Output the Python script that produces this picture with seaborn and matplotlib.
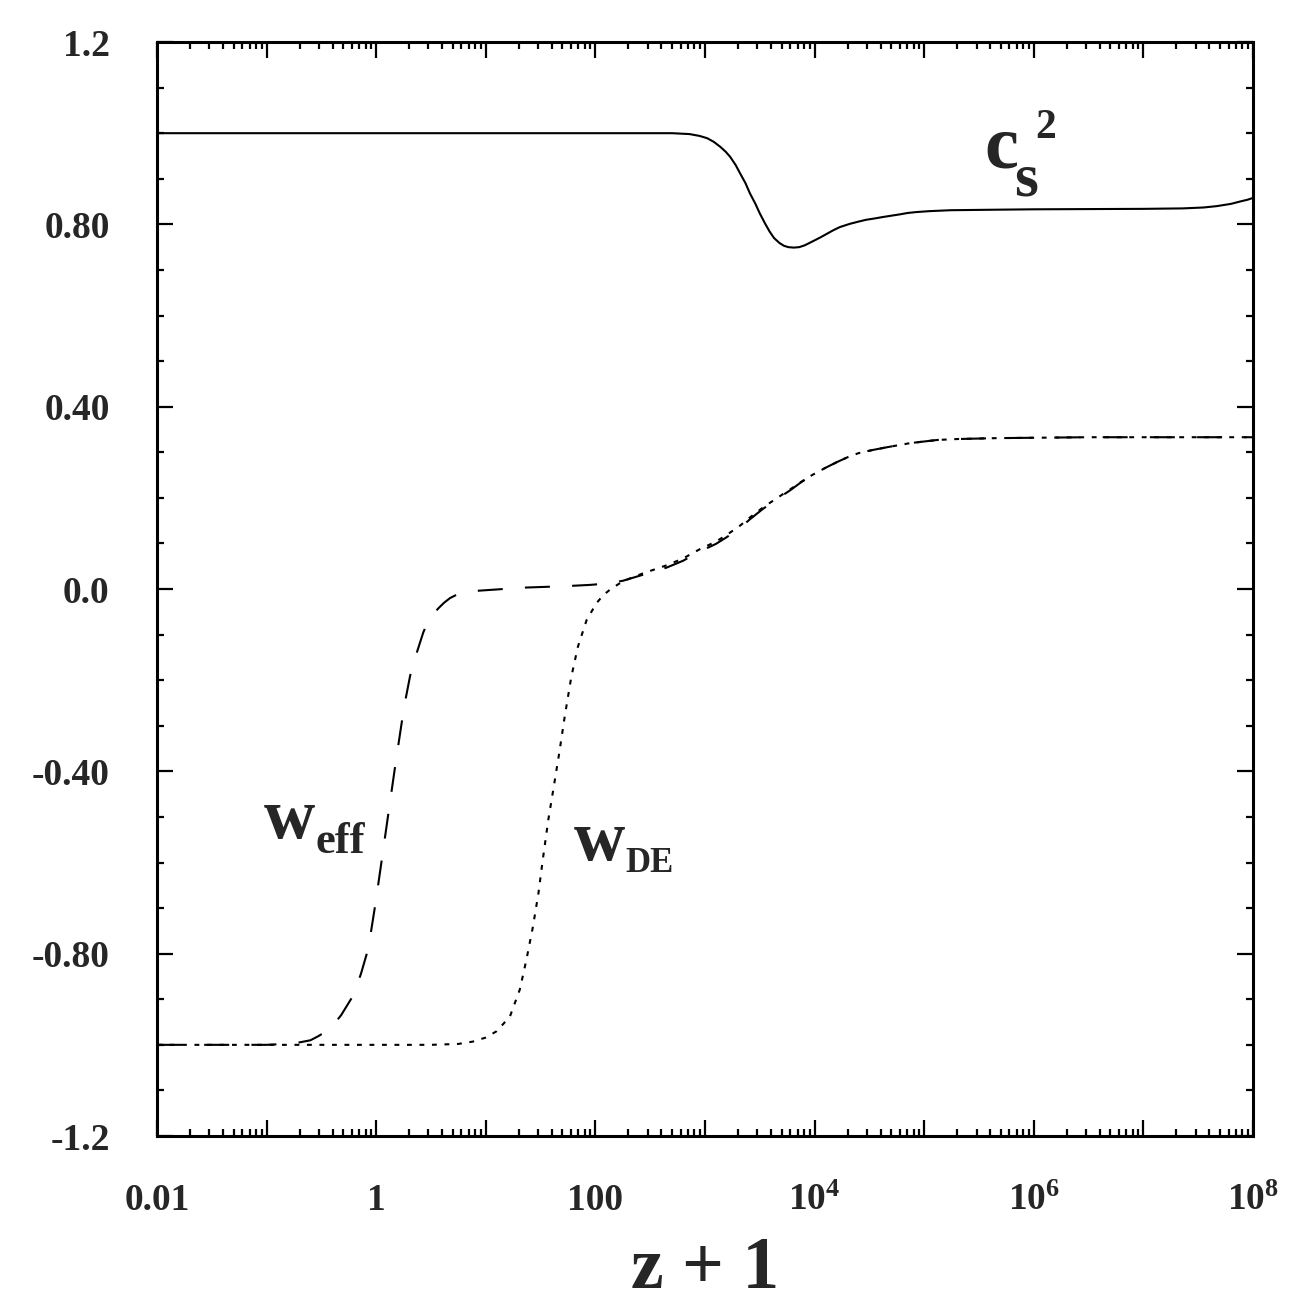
import numpy as np
import matplotlib
matplotlib.use("Agg")
import matplotlib.pyplot as plt
from matplotlib.ticker import FixedLocator, LogLocator, MultipleLocator, NullFormatter
import seaborn as sns

# log10(z+1) and value
cs2_logx = [-2.0, 1.0, 2.0, 2.41, 2.7, 2.86, 2.95, 3.02, 3.08, 3.14, 3.19, 3.23, 3.28,
            3.32, 3.37, 3.41, 3.46, 3.50, 3.55, 3.59, 3.63, 3.68, 3.72, 3.76, 3.81,
            3.86, 3.91, 3.96, 4.05, 4.11, 4.17, 4.23, 4.32, 4.4, 4.47, 4.55, 4.62,
            4.7, 4.78, 4.85, 4.93, 5.05, 5.24, 5.6, 6.0, 7.0, 7.36, 7.55, 7.67, 7.80,
            7.88, 7.95, 8.0]
cs2_val = [1.000, 1.000, 1.000, 1.000, 1.000, 0.998, 0.994, 0.989, 0.981, 0.970, 0.959, 0.948, 0.930,
           0.912, 0.890, 0.868, 0.845, 0.824, 0.801, 0.784, 0.770, 0.759, 0.753, 0.750, 0.749,
           0.750, 0.754, 0.760, 0.771, 0.779, 0.787, 0.794, 0.801, 0.806, 0.810, 0.813, 0.816,
           0.819, 0.822, 0.825, 0.827, 0.829, 0.831, 0.832, 0.833, 0.834, 0.835, 0.837, 0.840, 0.845,
           0.850, 0.854, 0.858]

weff_logx = [-2.0, -1.0, -0.75, -0.6, -0.528, -0.42, -0.32, -0.215, -0.14, -0.071, -0.004,
             0.057, 0.118, 0.179, 0.255, 0.31, 0.37, 0.43, 0.48, 0.53, 0.573, 0.62, 0.673,
             0.73, 0.8, 0.917, 1.1, 1.34, 1.7, 1.95, 2.1, 2.25, 2.43, 2.65, 2.8, 2.95, 3.1,
             3.2, 3.32, 3.41, 3.53, 3.66, 3.78, 3.87, 3.97, 4.1, 4.2, 4.3, 4.4, 4.53, 4.66,
             4.87, 5.12, 5.3, 5.66, 6.5, 8.0]
weff_val = [-1.000, -1.000, -0.997, -0.990, -0.981, -0.965, -0.935, -0.894, -0.845, -0.788, -0.686,
            -0.584, -0.481, -0.379, -0.258, -0.19, -0.140, -0.095, -0.068, -0.052, -0.041, -0.030, -0.020,
            -0.013, -0.008, -0.004, -0.001, 0.003, 0.006, 0.009, 0.012, 0.018, 0.031, 0.047, 0.062, 0.082, 0.099,
            0.114, 0.134, 0.153, 0.176, 0.198, 0.217, 0.233, 0.249, 0.266, 0.278, 0.289, 0.298, 0.305, 0.311,
            0.320, 0.327, 0.329, 0.331, 0.333, 0.333]

wde_logx = [-2.0, 0.5, 0.75, 0.88, 1.00, 1.10, 1.22, 1.31, 1.37, 1.43, 1.48, 1.52, 1.57,
            1.62, 1.67, 1.72, 1.78, 1.84, 1.92, 2.01, 2.07, 2.13, 2.25, 2.43, 2.65, 2.8, 2.95,
            3.1, 3.2, 3.32, 3.41, 3.53, 3.66, 3.78, 3.87, 3.97, 4.1, 4.2, 4.3, 4.4, 4.53,
            4.66, 4.87, 5.12, 5.3, 5.66, 6.5, 8.0]
wde_val = [-1.000, -1.000, -0.998, -0.993, -0.984, -0.970, -0.938, -0.879, -0.814, -0.741, -0.668, -0.594, -0.507,
           -0.434, -0.36, -0.28, -0.193, -0.127, -0.068, -0.031, -0.014, -0.002, 0.017, 0.034, 0.052, 0.067, 0.087,
           0.104, 0.119, 0.139, 0.157, 0.179, 0.200, 0.219, 0.234, 0.249, 0.266, 0.278, 0.289, 0.298, 0.305,
           0.311, 0.320, 0.327, 0.329, 0.331, 0.333, 0.333]

xtick_vals = [1e-2, 1e-1, 1, 10, 100, 1e3, 1e4, 1e5, 1e6, 1e7, 1e8]
xtick_labels = ["0.01", "", "1", "", "100", "", "$10^{4}$", "", "$10^{6}$", "", "$10^{8}$"]
ytick_vals = [-1.2, -0.8, -0.4, 0.0, 0.4, 0.8, 1.2]
ytick_labels = ["-1.2", "-0.80", "-0.40", "0.0", "0.40", "0.80", "1.2"]

sns.set_theme(style="ticks")
plt.rcParams["font.family"] = ["Liberation Serif", "DejaVu Serif"]
plt.rcParams["font.weight"] = "bold"
plt.rcParams["mathtext.fontset"] = "custom"
plt.rcParams["mathtext.rm"] = "Liberation Serif:bold"
plt.rcParams["mathtext.it"] = "Liberation Serif:bold"
plt.rcParams["mathtext.bf"] = "Liberation Serif:bold"
plt.rcParams["lines.scale_dashes"] = False

fig = plt.figure(figsize=(13.07, 13.05), dpi=100)
ax = fig.add_axes([0.1201, 0.1295, 0.8386, 0.8383])
ax.set_xscale("log")

sns.lineplot(x=10 ** np.array(cs2_logx), y=cs2_val, ax=ax, color="black",
             linewidth=1.5, estimator=None, sort=False)
sns.lineplot(x=10 ** np.array(weff_logx), y=weff_val, ax=ax, color="black",
             linewidth=1.5, estimator=None, sort=False)
ax.lines[-1].set_dashes((18, 16))
sns.lineplot(x=10 ** np.array(wde_logx), y=wde_val, ax=ax, color="black",
             linewidth=1.5, estimator=None, sort=False)
ax.lines[-1].set_dashes((3.5, 5.5))

ax.set_xlim(1e-2, 1e8)
ax.set_ylim(-1.2, 1.2)

# axes frame and ticks
for sp in ax.spines.values():
    sp.set_linewidth(2.2)
    sp.set_color("black")
ax.xaxis.set_major_locator(FixedLocator(xtick_vals))
ax.set_xticklabels(xtick_labels)
ax.xaxis.set_minor_locator(LogLocator(base=10, subs=np.arange(2, 10), numticks=100))
ax.xaxis.set_minor_formatter(NullFormatter())
ax.set_yticks(ytick_vals)
ax.set_yticklabels(ytick_labels)
ax.yaxis.set_minor_locator(MultipleLocator(0.1))
ax.tick_params(which="both", direction="in", top=True, right=True, width=1.6, color="black")
ax.tick_params(which="major", length=11.5)
ax.tick_params(which="minor", length=4.8)
ax.tick_params(axis="x", which="major", labelsize=27, pad=53)
ax.tick_params(axis="y", which="major", labelsize=27, pad=34)
for t in ax.xaxis.get_major_ticks():
    t.label1.set_va("baseline")

ax.set_xlabel("z + 1", fontsize=53, fontweight="bold")
ax.xaxis.label.set_va("baseline")
ax.xaxis.set_label_coords(0.5, -0.139)
ax.set_ylabel("")

# curve labels
tr = ax.transAxes
ax.text(0.7545, 0.8857, "c", transform=tr, fontsize=55, va="baseline", ha="left")
ax.text(0.782, 0.860, "s", transform=tr, fontsize=44, va="baseline", ha="left")
ax.text(0.801, 0.912, "2", transform=tr, fontsize=30, va="baseline", ha="left")
ax.text(0.0975, 0.2724, "w", transform=tr, fontsize=51, va="baseline", ha="left")
ax.text(0.1445, 0.2587, "eff", transform=tr, fontsize=32, va="baseline", ha="left")
ax.text(0.3805, 0.2523, "w", transform=tr, fontsize=51, va="baseline", ha="left")
ax.text(0.4275, 0.2413, "DE", transform=tr, fontsize=25, va="baseline", ha="left")

fig.savefig("out.png", dpi=100, facecolor="white")
